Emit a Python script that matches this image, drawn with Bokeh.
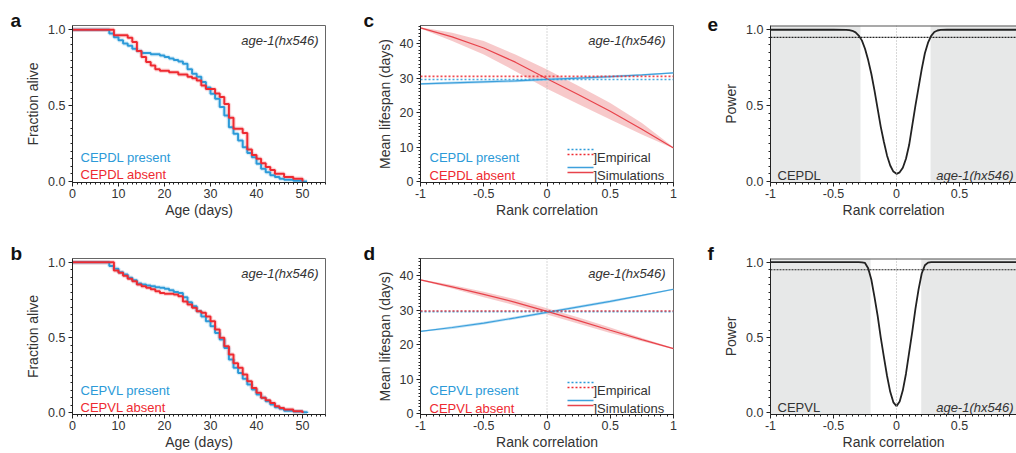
import numpy as np
from bokeh.plotting import figure
from bokeh.layouts import row, column
from bokeh.models import Range1d, FixedTicker, Label, Span, BoxAnnotation, Title
from bokeh.embed import file_html
from bokeh.resources import INLINE

# ---------------- data ----------------
# panel a: survival, CEPDL present / absent
a_present_days = [0, 8, 9, 10, 11, 12, 13, 14, 15, 17, 19, 20, 21, 22, 23, 24, 25, 26, 27, 28,
                  29, 30, 31, 32, 33, 34, 35, 36, 37, 38, 39, 40, 41, 42, 43, 44, 45, 46, 48, 50, 51]
a_present_frac = [1.0, 0.975, 0.95, 0.93, 0.91, 0.895, 0.875, 0.86, 0.847, 0.838, 0.83, 0.82, 0.81, 0.80,
                  0.79, 0.776, 0.74, 0.71, 0.69, 0.655, 0.62, 0.578, 0.545, 0.49, 0.435, 0.358, 0.314,
                  0.27, 0.226, 0.187, 0.16, 0.116, 0.084, 0.06, 0.04, 0.029, 0.018, 0.011, 0.005, 0.0, 0.0]
a_absent_days = [0, 9, 12, 13, 14, 15, 16, 17, 18, 19, 21, 23, 25, 26, 27, 28, 29, 31, 32, 33,
                 34, 35, 37, 38, 39, 40, 41, 42, 43, 44, 46, 48, 50]
a_absent_frac = [1.0, 0.963, 0.947, 0.92, 0.86, 0.82, 0.787, 0.765, 0.74, 0.73, 0.72, 0.705, 0.69, 0.68,
                 0.666, 0.633, 0.61, 0.58, 0.556, 0.51, 0.42, 0.347, 0.32, 0.21, 0.175, 0.15, 0.12,
                 0.095, 0.075, 0.05, 0.03, 0.018, 0.0]

# panel b: survival, CEPVL present / absent
b_present_days = [0, 8, 9, 10, 11, 12, 13, 14, 15, 16, 17, 18, 19, 20, 21, 22, 23, 24, 25, 26, 27, 28,
                  29, 30, 31, 32, 33, 34, 35, 36, 37, 38, 39, 40, 41, 42, 43, 44, 45, 46, 48, 50, 51]
b_present_frac = [1.0, 0.975, 0.956, 0.934, 0.918, 0.896, 0.88, 0.858, 0.852, 0.845, 0.84, 0.834,
                  0.83, 0.823, 0.814, 0.803, 0.796, 0.768, 0.735, 0.708, 0.675, 0.64,
                  0.608, 0.575, 0.53, 0.487, 0.43, 0.354, 0.30, 0.265, 0.226, 0.188,
                  0.155, 0.122, 0.10, 0.077, 0.055, 0.038, 0.027, 0.015, 0.009, 0.004, 0.0]
b_absent_days = [0, 9, 10, 11, 12, 13, 14, 15, 16, 17, 18, 19, 20, 22, 23, 24, 25, 26, 27, 28, 29, 30,
                 31, 32, 33, 34, 35, 36, 37, 38, 39, 40, 41, 42, 43, 44, 45, 46, 48, 50]
b_absent_frac = [1.0, 0.945, 0.93, 0.91, 0.89, 0.874, 0.852, 0.84, 0.83, 0.82, 0.807, 0.796, 0.79,
                 0.785, 0.774, 0.74, 0.72, 0.697, 0.675, 0.664, 0.64, 0.608, 0.553,
                 0.498, 0.442, 0.387, 0.33, 0.30, 0.254, 0.21, 0.166, 0.133, 0.10,
                 0.084, 0.066, 0.044, 0.033, 0.022, 0.011, 0.0]

# panels c, d: mean lifespan vs rank correlation
rank_corr = [-1.0, -0.75, -0.5, -0.25, 0.0, 0.25, 0.5, 0.75, 1.0]
c_absent_mean = [44.5, 41.9, 38.7, 34.6, 29.8, 25.2, 20.4, 15.2, 9.8]
c_absent_low = [44.3, 40.7, 36.8, 32.0, 26.9, 22.4, 18.0, 13.7, 9.6]
c_absent_high = [44.7, 43.1, 40.7, 36.8, 32.5, 27.7, 22.8, 17.0, 10.0]
c_present_mean = [28.3, 28.6, 28.9, 29.2, 29.6, 30.0, 30.4, 30.9, 31.5]
c_present_low = [28.0, 28.2, 28.5, 28.8, 29.2, 29.6, 30.0, 30.6, 31.3]
c_present_high = [28.6, 29.0, 29.3, 29.6, 30.0, 30.4, 30.8, 31.2, 31.7]
c_empirical_present = 29.6
c_empirical_absent = 30.5

d_absent_mean = [38.8, 36.8, 34.6, 32.3, 29.7, 27.0, 24.2, 21.5, 18.9]
d_absent_low = [38.6, 36.3, 33.8, 31.4, 28.8, 26.1, 23.4, 21.0, 18.7]
d_absent_high = [39.0, 37.3, 35.4, 33.2, 30.6, 27.9, 25.0, 22.0, 19.1]
d_present_mean = [23.9, 25.0, 26.3, 27.8, 29.4, 31.0, 32.6, 34.3, 36.1]
d_present_low = [23.7, 24.6, 25.9, 27.4, 29.0, 30.6, 32.2, 34.0, 35.9]
d_present_high = [24.1, 25.4, 26.7, 28.2, 29.8, 31.4, 33.0, 34.6, 36.3]
d_empirical_present = 29.6
d_empirical_absent = 29.8

# panels e, f: power vs rank correlation
e_corr = [-1.0, -0.5, -0.4, -0.375, -0.35, -0.325, -0.3, -0.275, -0.25, -0.225, -0.2, -0.175, -0.15,
          -0.125, -0.1, -0.075, -0.05, -0.025, 0.0, 0.025, 0.05, 0.075, 0.1, 0.125, 0.15, 0.175, 0.2,
          0.225, 0.25, 0.275, 0.3, 0.325, 0.35, 0.4, 0.5, 1.0]
e_power = [1.0, 1.0, 0.999, 0.997, 0.993, 0.983, 0.962, 0.93, 0.875, 0.8, 0.71, 0.6, 0.48,
           0.36, 0.26, 0.17, 0.105, 0.065, 0.05, 0.06, 0.09, 0.15, 0.24, 0.37, 0.5, 0.62, 0.74,
           0.845, 0.915, 0.96, 0.985, 0.995, 0.999, 1.0, 1.0, 1.0]
e_shade = [-0.286, 0.27]

f_corr = [-1.0, -0.5, -0.3, -0.275, -0.25, -0.225, -0.2, -0.175, -0.15, -0.125, -0.1, -0.075, -0.05,
          -0.025, 0.0, 0.025, 0.05, 0.075, 0.1, 0.125, 0.15, 0.175, 0.2, 0.225, 0.25, 0.275, 0.3, 0.5, 1.0]
f_power = [1.0, 1.0, 1.0, 0.999, 0.995, 0.96, 0.885, 0.77, 0.645, 0.5, 0.37, 0.245, 0.14,
           0.07, 0.045, 0.075, 0.15, 0.26, 0.4, 0.54, 0.69, 0.82, 0.925, 0.98, 0.997, 1.0, 1.0, 1.0, 1.0]
f_shade = [-0.206, 0.196]
power_level = 0.95

# ---------------- style ----------------
FONT = "Liberation Sans"
TXT = "#333333"
BLUE = "#2c9ad8"
RED = "#ee2a31"
RED_LINE = "#e8434b"
BLUE_LINE = "#3da0dc"
RED_BAND = "#f6bfc1"
BLUE_BAND = "#b3daf2"
SHADE = "#e7e8e8"


def make_fig(w, h, bl, br, bt, bb, xr, yr, xticks, xminor, yticks, yminor, xover, yover,
             xlabel, ylabel, outline=True):
    p = figure(width=w, height=h, x_range=Range1d(*xr), y_range=Range1d(*yr),
               output_backend="svg", toolbar_location=None,
               min_border_left=bl, min_border_right=br, min_border_top=bt, min_border_bottom=bb)
    p.xgrid.visible = False
    p.ygrid.visible = False
    p.outline_line_color = "#666666" if outline else None
    p.outline_line_width = 1
    p.background_fill_color = "white"
    p.border_fill_color = "white"
    p.xaxis.ticker = FixedTicker(ticks=xticks, minor_ticks=xminor)
    p.yaxis.ticker = FixedTicker(ticks=yticks, minor_ticks=yminor)
    p.xaxis.major_label_overrides = xover
    p.yaxis.major_label_overrides = yover
    p.xaxis.axis_label = xlabel
    p.yaxis.axis_label = ylabel
    for ax in (p.xaxis[0], p.yaxis[0]):
        ax.axis_line_color = "#222222"
        ax.axis_line_width = 1
        ax.major_tick_line_color = "#222222"
        ax.major_tick_out = 4
        ax.major_tick_in = 0
        ax.minor_tick_line_color = "#222222"
        ax.minor_tick_out = 2
        ax.minor_tick_in = 0
        ax.major_label_text_font = FONT
        ax.major_label_text_font_size = "12.5px"
        ax.major_label_text_color = TXT
        ax.major_label_standoff = 2
        ax.axis_label_text_font = FONT
        ax.axis_label_text_font_size = "14px"
        ax.axis_label_text_font_style = "normal"
        ax.axis_label_text_color = TXT
        ax.axis_label_standoff = 1
    p.yaxis[0].major_label_standoff = 3
    p.yaxis[0].axis_label_standoff = 4
    p.yaxis.major_label_orientation = "horizontal"
    p._fw = w - bl - br
    p._fh = h - bt - bb
    return p


def note(p, sx, sy, text, color=TXT, size="13px", style="normal", align="left"):
    """Place text at pixel offset (sx, sy) from the frame's top-left corner."""
    x0, x1 = p.x_range.start, p.x_range.end
    y0, y1 = p.y_range.start, p.y_range.end
    x = x0 + sx / p._fw * (x1 - x0)
    y = y1 - sy / p._fh * (y1 - y0)
    p.add_layout(Label(x=x, y=y, text=text, text_font=FONT, text_font_size=size,
                       text_color=color, text_font_style=style, text_align=align,
                       text_baseline="alphabetic"))


def key_line(p, sx0, sx1, sy, color, dash, width):
    x0, x1 = p.x_range.start, p.x_range.end
    y0, y1 = p.y_range.start, p.y_range.end
    xa = x0 + sx0 / p._fw * (x1 - x0)
    xb = x0 + sx1 / p._fw * (x1 - x0)
    yy = y1 - sy / p._fh * (y1 - y0)
    p.line([xa, xb], [yy, yy], line_color=color, line_dash=dash, line_width=width)


def letter(p, offset, text):
    p.title = Title(text=text, align="left", vertical_align="bottom", offset=offset,
                    standoff=-10, text_font=FONT, text_font_size="19px",
                    text_font_style="bold", text_color="#111111")


# common ticks
age_ticks = [0, 10, 20, 30, 40, 50]
age_minor = list(range(0, 56))
frac_ticks = [0, 0.5, 1.0]
frac_minor = [round(i * 0.05, 3) for i in range(0, 21)]
frac_over = {0: "0.0", 0.5: "0.5", 1.0: "1.0"}
rc_ticks = [-1, -0.5, 0, 0.5, 1]
rc_minor = [round(-1 + i * 0.05, 3) for i in range(0, 41)]
rc_over = {-1: "-1", -0.5: "-0.5", 0: "0", 0.5: "0.5", 1: "1"}
ml_ticks = [0, 10, 20, 30, 40]
ml_minor = list(range(0, 46))
ml_over = {0: "0", 10: "10", 20: "20", 30: "30", 40: "40"}
age_over = {v: str(v) for v in age_ticks}

# layout geometry (pixels)
R1 = dict(bt=25, fh=157, bb=38)
R2 = dict(bt=38, fh=156, bb=38)


def survival_panel(row_geo, yr, present, absent, lab_present, lab_absent, let):
    h = row_geo["bt"] + row_geo["fh"] + row_geo["bb"]
    p = make_fig(360, h, 72, 35, row_geo["bt"], row_geo["bb"], (0, 55), yr,
                 age_ticks, age_minor, frac_ticks, frac_minor, age_over, frac_over,
                 "Age (days)", "Fraction alive")
    for (dx, fy), col in ((present, BLUE), (absent, RED)):
        p.step(dx, fy, mode="after", line_color=col, line_width=4.5, line_alpha=0.18)
    for (dx, fy), col in ((present, BLUE), (absent, RED)):
        p.step(dx, fy, mode="after", line_color=col, line_width=2)
    note(p, 246, 15, "age-1(hx546)", style="italic", align="right")
    note(p, 8, 132, lab_present, color=BLUE)
    note(p, 8, 149, lab_absent, color=RED)
    letter(p, -62, let)
    return p


def lifespan_panel(row_geo, yr, pres, absn, emp_p, emp_a, lab_present, lab_absent, let):
    h = row_geo["bt"] + row_geo["fh"] + row_geo["bb"]
    p = make_fig(344, h, 60, 31, row_geo["bt"], row_geo["bb"], (-1, 1), yr,
                 rc_ticks, rc_minor, ml_ticks, ml_minor, rc_over, ml_over,
                 "Rank correlation", "Mean lifespan (days)")
    p.varea(x=rank_corr, y1=absn[1], y2=absn[2], fill_color=RED_BAND, fill_alpha=0.85)
    p.varea(x=rank_corr, y1=pres[1], y2=pres[2], fill_color=BLUE_BAND, fill_alpha=0.85)
    p.line(rank_corr, pres[0], line_color=BLUE_LINE, line_width=1.2)
    p.line(rank_corr, absn[0], line_color=RED_LINE, line_width=1.2)
    p.add_layout(Span(location=0, dimension="height", line_color="#b0b0b0",
                      line_dash="1 2", line_width=1))
    p.add_layout(Span(location=emp_p, dimension="width", line_color=BLUE,
                      line_dash="2 2", line_width=1.6, line_alpha=0.85))
    p.add_layout(Span(location=emp_a, dimension="width", line_color=RED,
                      line_dash="2 2", line_width=1.6, line_alpha=0.85))
    note(p, 245, 15, "age-1(hx546)", style="italic", align="right")
    note(p, 9, 132, lab_present, color=BLUE)
    note(p, 9, 150, lab_absent, color=RED)
    key_line(p, 147, 173, 124, BLUE, "2 2", 1.6)
    key_line(p, 147, 173, 129, RED, "2 2", 1.6)
    key_line(p, 147, 173, 142, BLUE_LINE, "solid", 1.6)
    key_line(p, 147, 173, 147, RED_LINE, "solid", 1.6)
    note(p, 173, 132, "]Empirical")
    note(p, 173, 150, "]Simulations")
    letter(p, -57, let)
    return p


def power_panel(row_geo, yr, corr, power, shade, lab, let):
    h = row_geo["bt"] + row_geo["fh"] + row_geo["bb"]
    p = make_fig(312, h, 66, 0, row_geo["bt"], row_geo["bb"], (-1, 0.952), yr,
                 rc_ticks[:-1], rc_minor, frac_ticks, frac_minor, rc_over, frac_over,
                 "Rank correlation", "Power", outline=False)
    p.add_layout(BoxAnnotation(right=shade[0], fill_color=SHADE, fill_alpha=1,
                               line_color=None, level="underlay"))
    p.add_layout(BoxAnnotation(left=shade[1], fill_color=SHADE, fill_alpha=1,
                               line_color=None, level="underlay"))
    p.add_layout(Span(location=0, dimension="height", line_color="#b0b0b0",
                      line_dash="1 2", line_width=1))
    p.add_layout(Span(location=power_level, dimension="width", line_color="#222222",
                      line_dash="2 1", line_width=1.2))
    p.add_layout(Span(location=yr[1], dimension="width", line_color="#555555", line_width=1.8))
    p.line(corr, power, line_color="#222222", line_width=1.8)
    note(p, 7, row_geo["fh"] - 7, lab)
    note(p, 243, row_geo["fh"] - 7, "age-1(hx546)", style="italic", align="right")
    letter(p, -63, let)
    return p


pa = survival_panel(R1, (-0.007, 1.028), (a_present_days, a_present_frac),
                    (a_absent_days, a_absent_frac), "CEPDL present", "CEPDL absent", "a")
pb = survival_panel(R2, (-0.0106, 1.0245), (b_present_days, b_present_frac),
                    (b_absent_days, b_absent_frac), "CEPVL present", "CEPVL absent", "b")
pc = lifespan_panel(R1, (-0.2, 45.2), (c_present_mean, c_present_low, c_present_high),
                    (c_absent_mean, c_absent_low, c_absent_high),
                    c_empirical_present, c_empirical_absent, "CEPDL present", "CEPDL absent", "c")
pd_ = lifespan_panel(R2, (-0.2, 45.0), (d_present_mean, d_present_low, d_present_high),
                     (d_absent_mean, d_absent_low, d_absent_high),
                     d_empirical_present, d_empirical_absent, "CEPVL present", "CEPVL absent", "d")
pe = power_panel(R1, (-0.007, 1.028), e_corr, e_power, e_shade, "CEPDL", "e")
pf = power_panel(R2, (-0.0106, 1.0245), f_corr, f_power, f_shade, "CEPVL", "f")

layout = column(row(pa, pc, pe), row(pb, pd_, pf))

open("out.html", "w").write(file_html(layout, INLINE))
